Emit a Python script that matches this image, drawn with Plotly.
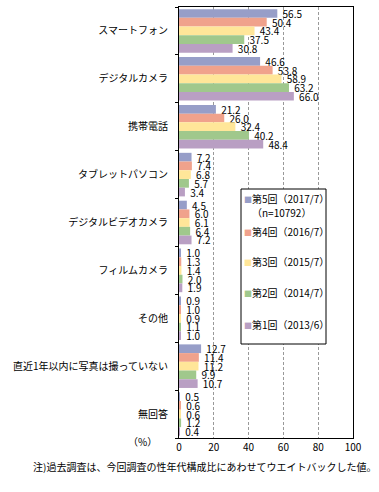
import plotly.graph_objects as go

categories = ["スマートフォン", "デジタルカメラ", "携帯電話", "タブレットパソコン",
              "デジタルビデオカメラ", "フィルムカメラ", "その他",
              "直近1年以内に写真は撮っていない", "無回答"]
series_names = ["第5回（2017/7）", "第4回（2016/7）", "第3回（2015/7）",
                "第2回（2014/7）", "第1回（2013/6）"]
legend_extra = ["（n=10792）", "", "", "", ""]
v2017 = [56.5, 46.6, 21.2, 7.2, 4.5, 1.0, 0.9, 12.7, 0.5]
v2016 = [50.4, 53.8, 26.0, 7.4, 6.0, 1.3, 1.0, 11.4, 0.6]
v2015 = [43.4, 58.9, 32.4, 6.8, 6.1, 1.4, 0.9, 11.2, 0.6]
v2014 = [37.5, 63.2, 40.2, 5.7, 6.4, 2.0, 1.1, 9.9, 1.2]
v2013 = [30.8, 66.0, 48.4, 3.4, 7.2, 1.9, 1.0, 10.7, 0.4]
values = [v2017, v2016, v2015, v2014, v2013]
colors = ["#979EC8", "#F0A28C", "#FFE699", "#A0C88C", "#B99FC3"]
x_ticks = [0, 20, 40, 60, 80, 100]
note = "注)過去調査は、今回調査の性年代構成比にあわせてウエイトバックした値。"
unit = "（%）"

FONT = "Noto Sans CJK JP, sans-serif"
ypos = list(range(len(categories)))

fig = go.Figure()
for name, vals, col in zip(series_names, values, colors):
    fig.add_trace(go.Bar(
        y=ypos, x=vals, orientation="h", name=name,
        marker=dict(color=col, line=dict(width=0)),
        text=vals, texttemplate="\u00a0%{x:.1f}", textposition="outside",
        constraintext="none", cliponaxis=False,
        textfont=dict(size=10, color="black", family=FONT),
        showlegend=False,
    ))

# manual legend
L, R, T, B = 179, 353, 7, 438
W, H = R - L, B - T
def px(x):
    return (x - L) / W
def py(y):
    return (B - y) / H

fig.add_shape(type="rect", xref="paper", yref="paper",
              x0=px(241), x1=px(326), y0=py(344), y1=py(189),
              line=dict(color="black", width=1), fillcolor="white", layer="above")
ys = [198, 231, 261, 292, 324]
for name, extra, col, yy in zip(series_names, legend_extra, colors, ys):
    fig.add_annotation(xref="paper", yref="paper", x=px(242), y=py(yy),
                       xanchor="left", yanchor="middle", showarrow=False,
                       text=f"<span style='color:{col};font-size:8px'>■</span>{name}",
                       font=dict(size=10, color="black", family=FONT))
    if extra:
        fig.add_annotation(xref="paper", yref="paper", x=px(250), y=py(yy + 15),
                           xanchor="left", yanchor="middle", showarrow=False,
                           text=extra, font=dict(size=10, color="black", family=FONT))

fig.add_annotation(xref="paper", yref="paper", x=px(142), y=py(441),
                   xanchor="center", yanchor="middle", showarrow=False,
                   text=unit, font=dict(size=10, color="black", family=FONT))
fig.add_annotation(xref="paper", yref="paper", x=px(378), y=py(466),
                   xanchor="right", yanchor="middle", showarrow=False,
                   text=note, font=dict(size=10, color="black", family=FONT))

fig.update_layout(
    width=379, height=492,
    margin=dict(l=L, r=379 - R, t=T, b=492 - B, autoexpand=False),
    paper_bgcolor="white", plot_bgcolor="white",
    barmode="group", bargap=0.09, bargroupgap=0,
    font=dict(family=FONT, size=10, color="black"),
    xaxis=dict(range=[0, 100], tickvals=x_ticks, ticks="", automargin=False,
               showline=True, linecolor="black", linewidth=1, mirror=True,
               showgrid=True, gridcolor="#999999", griddash="3px,2px", gridwidth=1,
               zeroline=False, tickfont=dict(size=10, color="black"),
               fixedrange=True),
    yaxis=dict(range=[8.5, -0.5], tickvals=ypos, ticktext=categories, ticks="",
               automargin=False,
               showline=True, linecolor="black", linewidth=1, mirror=True,
               showgrid=False, zeroline=False, ticklabelstandoff=8,
               tickfont=dict(size=10, color="black"),
               minor=dict(tickvals=[i - 0.5 for i in range(len(categories) + 1)],
                          ticks="outside", ticklen=3, tickcolor="black",
                          showgrid=False),
               fixedrange=True),
)

fig.write_html("out.html", config={"displayModeBar": False},
               post_script="document.body.style.margin='0';document.body.style.overflow='hidden';")
